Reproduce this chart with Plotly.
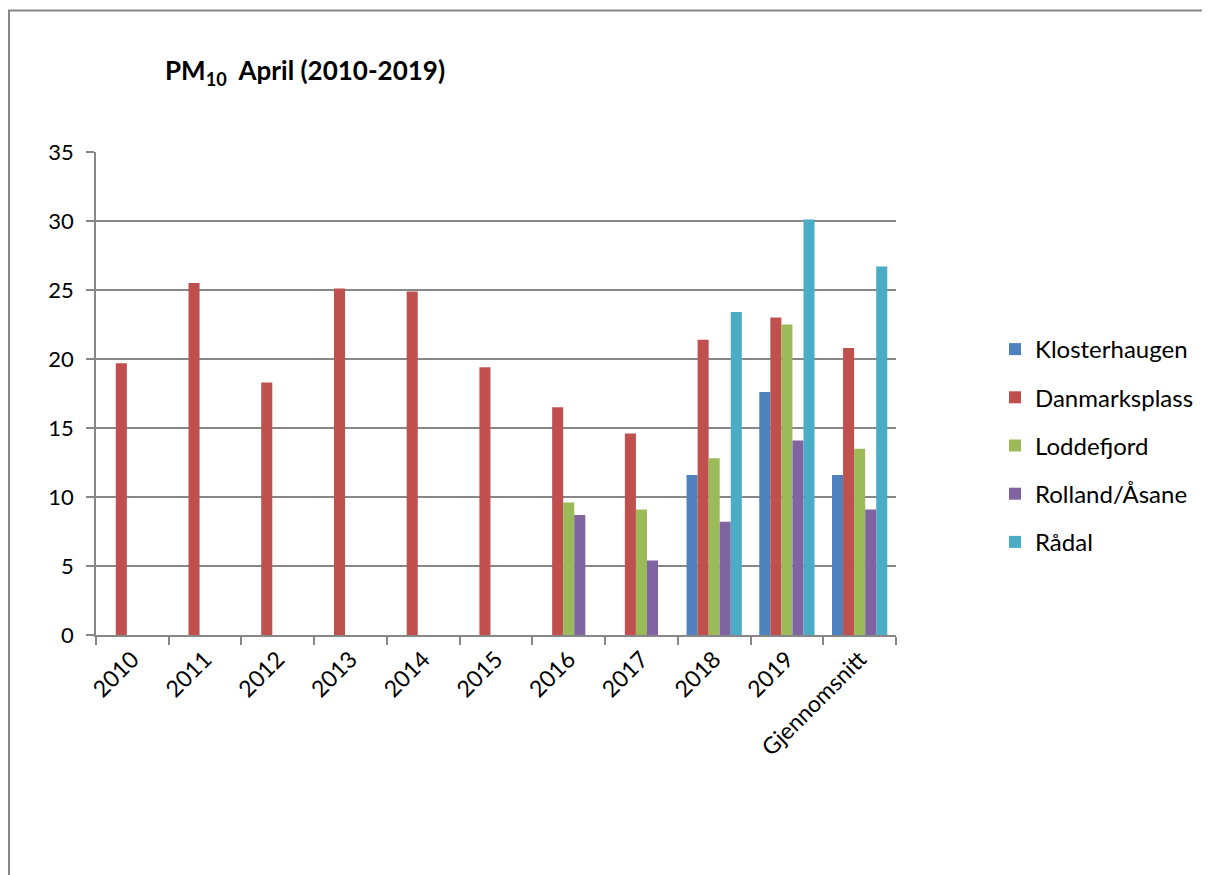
import plotly.graph_objects as go

# categories on the x axis
years = ["2010", "2011", "2012", "2013", "2014", "2015", "2016", "2017", "2018", "2019", "Gjennomsnitt"]

# PM10 monthly means for April per station (None = no measurement)
klosterhaugen = [None, None, None, None, None, None, None, None, 11.6, 17.6, 11.6]
danmarksplass = [19.7, 25.5, 18.3, 25.1, 24.9, 19.4, 16.5, 14.6, 21.4, 23.0, 20.8]
loddefjord = [None, None, None, None, None, None, 9.6, 9.1, 12.8, 22.5, 13.5]
rolland_asane = [None, None, None, None, None, None, 8.7, 5.4, 8.2, 14.1, 9.1]
radal = [None, None, None, None, None, None, None, None, 23.4, 30.1, 26.7]

series = [
    ("Klosterhaugen", klosterhaugen, "#4F81BD"),
    ("Danmarksplass", danmarksplass, "#C0504D"),
    ("Loddefjord", loddefjord, "#9BBB59"),
    ("Rolland/Åsane", rolland_asane, "#8064A2"),
    ("Rådal", radal, "#4BACC6"),
]

FONT = "Lato, 'Open Sans', sans-serif"
GRID = "#878787"

fig = go.Figure()
for i, (name, vals, col) in enumerate(series):
    fig.add_trace(go.Bar(x=years, y=vals, name=name, marker_color=col,
                         marker_line_width=0, legendgroup=str(i)))

# page puts the figure 8px in from the top-left corner
OFF = 8
W, H = 1210 - OFF, 875 - OFF
L, T = 96 - OFF, 152 - OFF
pw, ph = 800, 483
R, B = W - L - pw, H - T - ph

def px_x(x):
    # reference pixel -> paper x
    return (x - OFF - L) / pw

def px_y(y):
    # reference pixel -> paper y
    return (T + ph - (y - OFF)) / ph

fig.update_layout(
    width=W, height=H,
    margin=dict(l=L, r=R, t=T, b=B, autoexpand=False),
    paper_bgcolor="white", plot_bgcolor="white",
    barmode="group", bargap=0.24, bargroupgap=0,
    font=dict(family=FONT, size=20, color="black"),
    title=dict(text="<b>PM<sub>10</sub>  April (2010-2019)</b>",
               x=(165 - OFF) / W, y=1 - (71 - OFF) / H, xanchor="left", yanchor="middle",
               font=dict(family=FONT, size=26, color="black")),
    legend=dict(x=px_x(995), y=px_y(327), xanchor="left", yanchor="top",
                font=dict(family=FONT, size=24, color="black"),
                tracegroupgap=14, itemwidth=30, bgcolor="rgba(0,0,0,0)"),
    xaxis=dict(tickangle=-45, tickson="boundaries", ticks="outside", ticklen=8,
               tickcolor=GRID, tickwidth=1.5, showline=True, linecolor=GRID, linewidth=1.5,
               showgrid=False, tickfont=dict(size=23)),
    yaxis=dict(range=[0, 35], dtick=5, ticks="outside", ticklen=8, tickcolor=GRID,
               tickwidth=1.5, showline=True, linecolor=GRID, linewidth=1.5, showgrid=True,
               gridcolor=GRID, gridwidth=1.5, zeroline=False, tickfont=dict(size=22),
               ticklabelstandoff=8),
    shapes=[dict(type="rect", xref="paper", yref="paper",
                 x0=px_x(9), x1=px_x(1225), y0=px_y(890), y1=px_y(10.5),
                 line=dict(color=GRID, width=2), layer="below")],
)

fig.write_html("out.html")
